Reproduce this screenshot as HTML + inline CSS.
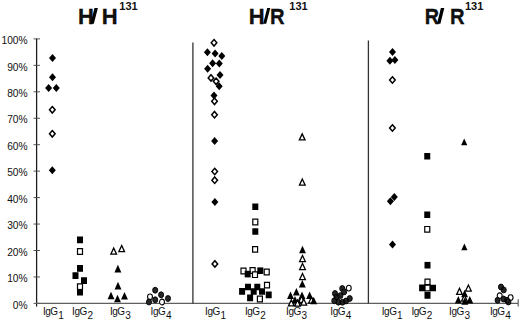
<!DOCTYPE html>
<html><head><meta charset="utf-8"><style>
html,body{margin:0;padding:0;background:#fff;}
body{width:520px;height:320px;overflow:hidden;}
svg{display:block;}
text{font-family:"Liberation Sans",sans-serif;fill:#111;}
.yl{font-size:11px;text-anchor:end;}
.xl{font-size:10px;letter-spacing:-0.45px;}
.tt{font-size:22px;font-weight:bold;stroke:#000;stroke-width:0.3;}
.sp{font-size:11px;font-weight:bold;}
.k{fill:#000;}
.o{fill:#fff;stroke:#000;stroke-width:1.5;}
.c{fill:#262626;stroke:#000;stroke-width:0.9;}
.oc{fill:#fff;stroke:#000;stroke-width:1.1;}
.ot{fill:#fff;stroke:#000;stroke-width:1.3;}
.os{fill:#fff;stroke:#000;stroke-width:1.2;}
</style></head><body>
<svg width="520" height="320" viewBox="0 0 520 320">
<rect width="520" height="320" fill="#fff"/>
<path d="M36.6 38.6V306.5" stroke="#1a1a1a" stroke-width="1.25" fill="none"/>
<path d="M33.5 303.4H40M33.5 276.95H40M33.5 250.5H40M33.5 224.05H40M33.5 197.6H40M33.5 171.15H40M33.5 144.7H40M33.5 118.25H40M33.5 91.8H40M33.5 65.35H40M33.5 38.9H40" stroke="#444" stroke-width="0.9" fill="none"/>
<path d="M36 303.4H518.2M518.2 299.2V306.4" stroke="#5e5e5e" stroke-width="1.2" fill="none"/>
<path d="M192.9 42.5V303.4M368.4 40.6V303.4" stroke="#333" stroke-width="1.3" fill="none"/>
<g transform="translate(27.6 0) scale(0.93 1)" class="yl"><text x="0" y="308.6">0%</text><text x="0" y="282.15">10%</text><text x="0" y="255.7">20%</text><text x="0" y="229.25">30%</text><text x="0" y="202.8">40%</text><text x="0" y="176.35">50%</text><text x="0" y="149.9">60%</text><text x="0" y="123.45">70%</text><text x="0" y="97">80%</text><text x="0" y="70.55">90%</text><text x="0" y="44.1">100%</text></g>
<text x="42.9" y="314.5" class="xl">IgG<tspan dy="4.3" dx="0.6">1</tspan></text>
<text x="72.1" y="314.5" class="xl">IgG<tspan dy="4.3" dx="0.6">2</tspan></text>
<text x="109.9" y="314.5" class="xl">IgG<tspan dy="4.3" dx="0.6">3</tspan></text>
<text x="150.6" y="314.5" class="xl">IgG<tspan dy="4.3" dx="0.6">4</tspan></text>
<text x="205.1" y="314.5" class="xl">IgG<tspan dy="4.3" dx="0.6">1</tspan></text>
<text x="244.9" y="314.5" class="xl">IgG<tspan dy="4.3" dx="0.6">2</tspan></text>
<text x="286.1" y="314.5" class="xl">IgG<tspan dy="4.3" dx="0.6">3</tspan></text>
<text x="330.3" y="314.5" class="xl">IgG<tspan dy="4.3" dx="0.6">4</tspan></text>
<text x="381.7" y="314.5" class="xl">IgG<tspan dy="4.3" dx="0.6">1</tspan></text>
<text x="411.4" y="314.5" class="xl">IgG<tspan dy="4.3" dx="0.6">2</tspan></text>
<text x="449.1" y="314.5" class="xl">IgG<tspan dy="4.3" dx="0.6">3</tspan></text>
<text x="489.9" y="314.5" class="xl">IgG<tspan dy="4.3" dx="0.6">4</tspan></text>
<text transform="translate(78 23.8) scale(1.0 1)" class="tt">H</text><path d="M94.5 7.9H97.9L93.8 23.8H90.4Z" class="k"/><text transform="translate(101.8 23.8) scale(1.0 1)" class="tt">H</text>
<text transform="translate(248.8 23.8) scale(1.0 1)" class="tt">H</text><path d="M267.2 7.9H270.3L266.2 23.8H263.1Z" class="k"/><text transform="translate(269.98 23.8) scale(0.92 1)" class="tt">R</text>
<text transform="translate(424.7 23.8) scale(0.9 1)" class="tt">R</text><path d="M440.9 7.9H444.3L440.4 23.8H437Z" class="k"/><text transform="translate(449.88 23.8) scale(0.92 1)" class="tt">R</text>
<text x="119.3" y="9.6" class="sp">131</text><text x="289.3" y="9.6" class="sp">131</text><text x="465" y="9.6" class="sp">131</text>
<path class="k" d="M52.5 53.9L56 57.9L52.5 61.9L49 57.9ZM52.5 73.3L56 77.3L52.5 81.3L49 77.3ZM48.6 84L52.1 88L48.6 92L45.1 88ZM56.3 84L59.8 88L56.3 92L52.8 88Z"/>
<path class="o" d="M52.3 106.6L55.1 109.8L52.3 113L49.5 109.8ZM52.3 130.6L55.1 133.8L52.3 137L49.5 133.8Z"/>
<path class="k" d="M52.3 166.2L55.8 170.2L52.3 174.2L48.8 170.2ZM77 236.6h6v6.6h-6Z"/>
<path class="os" d="M77.5 248.7h5v5.6h-5Z"/>
<path class="k" d="M77 265.1h6v6.6h-6ZM72.5 272.3h6v6.6h-6ZM81 277.3h6v6.6h-6Z"/>
<path class="os" d="M77.5 283.9h5v5.6h-5Z"/>
<path class="k" d="M77 288.9h6v6.6h-6Z"/>
<path class="ot" d="M113.7 248.05L116.55 254.15L110.85 254.15ZM121.7 245.55L124.55 251.65L118.85 251.65Z"/>
<path class="k" d="M117.9 264.8L121.35 272.4L114.45 272.4ZM118 281.8L121.45 289.4L114.55 289.4ZM111 291.7L114.45 299.3L107.55 299.3ZM117.5 294.7L120.95 302.3L114.05 302.3ZM124.5 292L127.95 299.6L121.05 299.6Z"/>
<path class="oc" d="M147.55 296.8a2.45 2.85 0 1 0 4.9 0a2.45 2.85 0 1 0 -4.9 0Z"/>
<path class="c" d="M152.65 290.2a2.55 2.95 0 1 0 5.1 0a2.55 2.95 0 1 0 -5.1 0ZM158.55 294.8a2.55 2.95 0 1 0 5.1 0a2.55 2.95 0 1 0 -5.1 0ZM165.45 298.5a2.55 2.95 0 1 0 5.1 0a2.55 2.95 0 1 0 -5.1 0ZM152.65 299.8a2.55 2.95 0 1 0 5.1 0a2.55 2.95 0 1 0 -5.1 0ZM146.45 302a2.55 2.95 0 1 0 5.1 0a2.55 2.95 0 1 0 -5.1 0Z"/>
<path class="oc" d="M159.55 302a2.45 2.85 0 1 0 4.9 0a2.45 2.85 0 1 0 -4.9 0Z"/>
<path class="o" d="M214 39.6L216.8 42.8L214 46L211.2 42.8Z"/>
<path class="k" d="M207.4 48.2L210.9 52.2L207.4 56.2L203.9 52.2ZM215.1 49.5L218.6 53.5L215.1 57.5L211.6 53.5ZM221.8 52L225.3 56L221.8 60L218.3 56ZM212.6 59.2L216.1 63.2L212.6 67.2L209.1 63.2ZM219.3 59.6L222.8 63.6L219.3 67.6L215.8 63.6ZM207.6 64.8L211.1 68.8L207.6 72.8L204.1 68.8ZM220 71.1L223.5 75.1L220 79.1L216.5 75.1Z"/>
<path class="o" d="M211 74.7L213.8 77.9L211 81.1L208.2 77.9ZM216.1 78.1L218.9 81.3L216.1 84.5L213.3 81.3Z"/>
<path class="k" d="M219.2 82.3L222.7 86.3L219.2 90.3L215.7 86.3ZM214 91.4L217.5 95.4L214 99.4L210.5 95.4Z"/>
<path class="o" d="M214.5 98.1L217.3 101.3L214.5 104.5L211.7 101.3ZM214.5 111.5L217.3 114.7L214.5 117.9L211.7 114.7Z"/>
<path class="k" d="M214.6 137.1L218.1 141.1L214.6 145.1L211.1 141.1Z"/>
<path class="o" d="M214.7 168.3L217.5 171.5L214.7 174.7L211.9 171.5ZM214.7 177L217.5 180.2L214.7 183.4L211.9 180.2Z"/>
<path class="k" d="M214.9 198L218.4 202L214.9 206L211.4 202Z"/>
<path class="o" d="M214.9 260.7L217.7 263.9L214.9 267.1L212.1 263.9Z"/>
<path class="k" d="M252.3 203.4h6v6.6h-6Z"/>
<path class="os" d="M252.8 219.2h5v5.6h-5Z"/>
<path class="k" d="M252.3 228.2h6v6.6h-6Z"/>
<path class="os" d="M252.6 246.6h5v5.6h-5ZM241 268.2h5v5.6h-5ZM250.1 267.7h5v5.6h-5Z"/>
<path class="k" d="M244.7 270.8h6v6.6h-6Z"/>
<path class="os" d="M252.5 271.9h5v5.6h-5Z"/>
<path class="k" d="M257.3 267.4h6v6.6h-6Z"/>
<path class="os" d="M264.2 269.2h5v5.6h-5ZM264.5 282.3h5v5.6h-5Z"/>
<path class="k" d="M245 283.7h6v6.6h-6ZM254.3 283.7h6v6.6h-6ZM239.1 288.1h6v6.6h-6ZM250.7 288.2h6v6.6h-6ZM259 288.2h6v6.6h-6ZM265.7 291.6h6v6.6h-6ZM247.1 294.6h6v6.6h-6Z"/>
<path class="os" d="M257.4 296.2h5v5.6h-5Z"/>
<path class="ot" d="M302.2 133.85L305.05 139.95L299.35 139.95ZM302.3 179.05L305.15 185.15L299.45 185.15Z"/>
<path class="k" d="M302.5 245.7L305.95 253.3L299.05 253.3Z"/>
<path class="ot" d="M302.5 255.45L305.35 261.55L299.65 261.55ZM302.5 263.45L305.35 269.55L299.65 269.55ZM302.5 273.45L305.35 279.55L299.65 279.55Z"/>
<path class="k" d="M302.3 280L305.75 287.6L298.85 287.6ZM296.4 287.9L299.85 295.5L292.95 295.5ZM290.5 291.5L293.95 299.1L287.05 299.1ZM302 291.4L305.45 299L298.55 299ZM309.6 291.4L313.05 299L306.15 299ZM295 296L298.45 303.6L291.55 303.6ZM300 296.2L303.45 303.8L296.55 303.8Z"/>
<path class="ot" d="M301.5 296.25L304.35 302.35L298.65 302.35ZM311.5 296.95L314.35 303.05L308.65 303.05Z"/>
<path class="k" d="M313.7 296.7L317.15 304.3L310.25 304.3Z"/>
<path class="ot" d="M291.3 299.85L294.15 305.95L288.45 305.95ZM297.5 300.05L300.35 306.15L294.65 306.15ZM303.8 298.95L306.65 305.05L300.95 305.05Z"/>
<path class="c" d="M339.7 288.5a2.55 2.95 0 1 0 5.1 0a2.55 2.95 0 1 0 -5.1 0Z"/>
<path class="oc" d="M346.3 288.1a2.45 2.85 0 1 0 4.9 0a2.45 2.85 0 1 0 -4.9 0Z"/>
<path class="c" d="M341.55 291.9a2.55 2.95 0 1 0 5.1 0a2.55 2.95 0 1 0 -5.1 0ZM332.45 293.5a2.55 2.95 0 1 0 5.1 0a2.55 2.95 0 1 0 -5.1 0ZM337.85 295.6a2.55 2.95 0 1 0 5.1 0a2.55 2.95 0 1 0 -5.1 0ZM334.05 296.9a2.55 2.95 0 1 0 5.1 0a2.55 2.95 0 1 0 -5.1 0ZM347.2 298.5a2.55 2.95 0 1 0 5.1 0a2.55 2.95 0 1 0 -5.1 0ZM331.75 300.8a2.55 2.95 0 1 0 5.1 0a2.55 2.95 0 1 0 -5.1 0ZM343.45 301a2.55 2.95 0 1 0 5.1 0a2.55 2.95 0 1 0 -5.1 0ZM335.95 302.2a2.55 2.95 0 1 0 5.1 0a2.55 2.95 0 1 0 -5.1 0ZM339.95 302.2a2.55 2.95 0 1 0 5.1 0a2.55 2.95 0 1 0 -5.1 0Z"/>
<path class="k" d="M392.5 47.9L396 51.9L392.5 55.9L389 51.9ZM389.9 56.8L393.4 60.8L389.9 64.8L386.4 60.8ZM394.9 55.9L398.4 59.9L394.9 63.9L391.4 59.9Z"/>
<path class="o" d="M392.4 76.8L395.2 80L392.4 83.2L389.6 80ZM392.4 124.8L395.2 128L392.4 131.2L389.6 128Z"/>
<path class="k" d="M394.3 193.1L397.8 197.1L394.3 201.1L390.8 197.1ZM390.4 197.2L393.9 201.2L390.4 205.2L386.9 201.2ZM392.5 240.5L396 244.5L392.5 248.5L389 244.5ZM424.25 153h6v6.6h-6ZM424.25 211.5h6v6.6h-6Z"/>
<path class="os" d="M424.75 226.5h5v5.6h-5Z"/>
<path class="k" d="M424.5 261.9h6v6.6h-6Z"/>
<path class="os" d="M425 279.1h5v5.6h-5Z"/>
<path class="k" d="M419.1 284.6h6v6.6h-6ZM430 284.7h6v6.6h-6Z"/>
<path class="os" d="M425 285.2h5v5.6h-5Z"/>
<path class="k" d="M424.5 292.1h6v6.6h-6ZM464.2 138.5L467.3 145.3L461.1 145.3ZM464.4 243.5L467.5 250.3L461.3 250.3Z"/>
<path class="ot" d="M468.4 284.95L471.25 291.05L465.55 291.05ZM459.5 288.25L462.35 294.35L456.65 294.35Z"/>
<path class="k" d="M464.6 289.7L468.05 297.3L461.15 297.3Z"/>
<path class="ot" d="M464.4 294.95L467.25 301.05L461.55 301.05Z"/>
<path class="k" d="M458.3 295.9L461.75 303.5L454.85 303.5ZM464.8 297.2L468.25 304.8L461.35 304.8ZM469.8 295.9L473.25 303.5L466.35 303.5Z"/>
<path class="c" d="M498.45 287a2.55 2.95 0 1 0 5.1 0a2.55 2.95 0 1 0 -5.1 0ZM501.15 289.9a2.55 2.95 0 1 0 5.1 0a2.55 2.95 0 1 0 -5.1 0Z"/>
<path class="oc" d="M497.25 295.7a2.45 2.85 0 1 0 4.9 0a2.45 2.85 0 1 0 -4.9 0ZM508.15 297.6a2.45 2.85 0 1 0 4.9 0a2.45 2.85 0 1 0 -4.9 0Z"/>
<path class="c" d="M495.05 300.3a2.55 2.95 0 1 0 5.1 0a2.55 2.95 0 1 0 -5.1 0ZM500.95 299a2.55 2.95 0 1 0 5.1 0a2.55 2.95 0 1 0 -5.1 0ZM504.45 300.3a2.55 2.95 0 1 0 5.1 0a2.55 2.95 0 1 0 -5.1 0ZM505.85 302a2.55 2.95 0 1 0 5.1 0a2.55 2.95 0 1 0 -5.1 0Z"/>
</svg>
</body></html>
